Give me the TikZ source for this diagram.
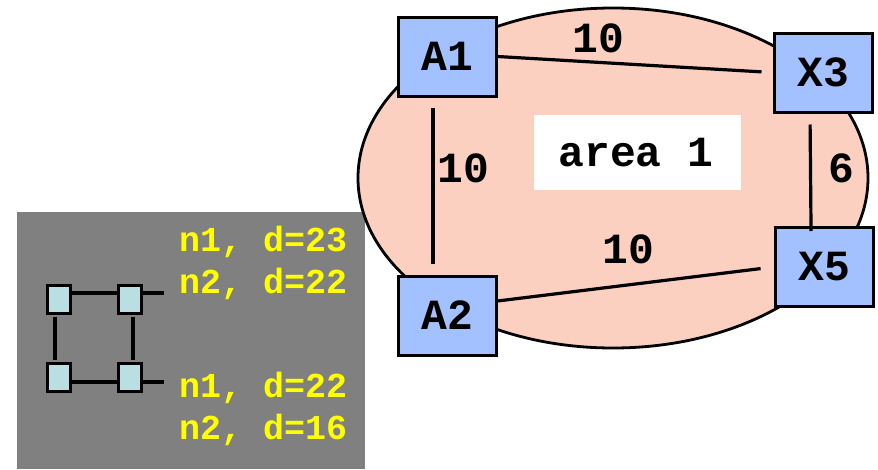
\documentclass[tikz,border=0pt]{standalone}
\usepackage{fontspec}
\setmonofont{Liberation Mono}
\definecolor{areafill}{RGB}{251,208,192}
\definecolor{boxfill}{RGB}{163,193,255}
\definecolor{sqfill}{RGB}{186,223,226}
\definecolor{panelgray}{RGB}{128,128,128}
\definecolor{ylw}{RGB}{255,255,0}
\begin{document}
\begin{tikzpicture}[x=1pt,y=-1pt,
  rbox/.style={draw=black,line width=3pt,fill=boxfill,minimum width=98pt,minimum height=79pt,inner sep=0pt,
    font=\fontsize{43}{48}\selectfont\ttfamily\bfseries,text height=27pt,text depth=0pt},
  lbl/.style={font=\fontsize{43}{48}\selectfont\ttfamily\bfseries,anchor=base,inner sep=0pt},
  link/.style={line width=3.2pt,black},
  sq/.style={draw=black,line width=3pt,fill=sqfill,minimum width=23pt,minimum height=28pt,inner sep=0pt},
  slink/.style={line width=4pt,black},
  ytxt/.style={font=\fontsize{35}{40}\selectfont\ttfamily\bfseries,text=ylw,anchor=base west,inner sep=0pt}]
\useasboundingbox (0,0) rectangle (878,469);
% panel
\fill[panelgray] (17,212) rectangle (365,469);
% area ellipse
\draw[line width=2.8pt,fill=areafill] (613,178) ellipse [x radius=255pt,y radius=170pt];
\node[fill=white,minimum width=207pt,minimum height=75pt,inner sep=0pt] (areabox) at (637.5,152.5) {};
\node[lbl] (arealbl) at (636,166) {area 1};
% routers
\node[rbox] (A1) at (447,56.5) {A1};
\node[rbox] (X3) at (823,72.5) {X3};
\node[rbox] (A2) at (447,316) {A2};
\node[rbox] (X5) at (824,267) {X5};
% links
\draw[link,shorten >=11pt] (A1.east) -- (X3.west);
\draw[link,shorten >=13pt] ([yshift=15pt]A2.east) -- (X5.west);
\draw[link,shorten <=10pt,shorten >=11pt] ([xshift=-14pt]A1.south) -- ([xshift=-14pt]A2.north);
\draw[link,shorten <=11pt,shorten >=-5pt] ([xshift=-13pt]X3.south) -- ([xshift=-13pt]X5.north);
% costs
\node[lbl] (c1) at (598,52) {10};
\node[lbl] (c2) at (463,182) {10};
\node[lbl] (c3) at (841,182) {6};
\node[lbl] (c4) at (628,263) {10};
% small network
\node[sq] (s1) at (58.5,299) {};
\node[sq] (s2) at (130,299) {};
\node[sq] (s3) at (58.5,377.5) {};
\node[sq] (s4) at (130,377.5) {};
\coordinate (t1) at (164,293);
\coordinate (t2) at (164,382);
\draw[slink] ([yshift=6pt]s1.east) -- ([yshift=6pt]s2.west);
\draw[slink] ([yshift=6pt]s2.east) -- (t1);
\draw[slink] ([yshift=-4.5pt]s3.east) -- ([yshift=-4.5pt]s4.west);
\draw[slink] ([yshift=-4.5pt]s4.east) -- (t2);
\draw[slink,shorten <=2pt,shorten >=2pt] ([xshift=-3.5pt]s1.south) -- ([xshift=-3.5pt]s3.north);
\draw[slink,shorten <=2pt,shorten >=2pt] ([xshift=3pt]s2.south) -- ([xshift=3pt]s4.north);
% yellow labels
\node[ytxt] (y1) at (179,251) {n1, d=23};
\node[ytxt] (y2) at (179,293) {n2, d=22};
\node[ytxt] (y3) at (179,397) {n1, d=22};
\node[ytxt] (y4) at (179,439) {n2, d=16};
\end{tikzpicture}
\end{document}
